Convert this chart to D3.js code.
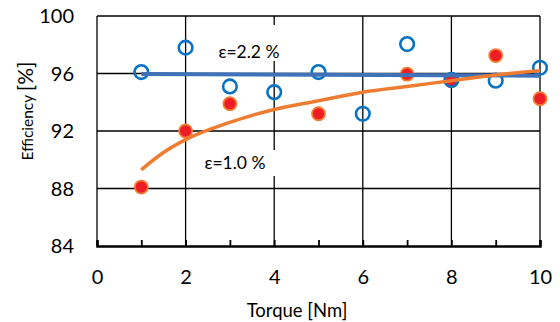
<!DOCTYPE html>
<html>
<head>
<meta charset="utf-8">
<script src="https://cdn.jsdelivr.net/npm/d3@7"></script>
<style>
  body { margin: 0; background: #fff; }
  svg { display: block; font-family: Lato, 'Open Sans', sans-serif; }
</style>
</head>
<body>
<svg id="chart" width="560" height="322"></svg>
<script>
// torque [Nm] and measured efficiency [%]
const torqueBlue = [1, 2, 3, 4, 5, 6, 7, 8, 9, 10]
const effBlue = [96.1, 97.8, 95.1, 94.7, 96.1, 93.2, 98.05, 95.55, 95.5, 96.4]
const torqueRed = [1, 2, 3, 5, 7, 8, 9, 10]
const effRed = [88.1, 92.0, 93.9, 93.2, 95.95, 95.5, 97.25, 94.25]
// trend lines
const trendBlueX = [1, 10]
const trendBlueY = [95.97, 95.85]
const trendRedX = [1, 1.5, 2, 3, 4, 5, 6, 7, 8, 9, 10]
const trendRedY = [89.3, 90.5, 91.4, 92.6, 93.5, 94.1, 94.7, 95.1, 95.5, 95.9, 96.2]
const xTicks = [0, 2, 4, 6, 8, 10]
const yTicks = [84, 88, 92, 96, 100]
const labelBlue = 'ε=2.2 %'
const labelRed = 'ε=1.0 %'

const plotLeft = 97
const plotTop = 16
const plotRight = 540
const plotBottom = 246

const svg = d3.select('#chart')
const x = d3.scaleLinear().domain([0, 10]).range([plotLeft, plotRight])
const y = d3.scaleLinear().domain([84, 100]).range([plotBottom, plotTop])

// grid
svg.append('g')
   .selectAll('line')
   .data(xTicks.filter(d => d > 0))
   .join('line')
   .attr('x1', d => x(d)).attr('x2', d => x(d))
   .attr('y1', plotTop).attr('y2', plotBottom)
   .attr('stroke', '#000').attr('stroke-width', 1.3)
svg.append('g')
   .selectAll('line')
   .data(yTicks.filter(d => d > 84))
   .join('line')
   .attr('x1', plotLeft).attr('x2', plotRight)
   .attr('y1', d => y(d)).attr('y2', d => y(d))
   .attr('stroke', '#000').attr('stroke-width', 1.3)
svg.append('line')
   .attr('x1', plotLeft).attr('x2', plotLeft)
   .attr('y1', plotTop).attr('y2', plotBottom)
   .attr('stroke', '#000').attr('stroke-width', 1.3)

// bottom axis with minor ticks pointing up
const xAxis = d3.axisBottom(x)
                .tickValues(d3.range(0, 11, 1))
                .tickSize(-6)
                .tickFormat(d => xTicks.includes(d) ? d : '')
const gx = svg.append('g')
              .attr('transform', `translate(0,${plotBottom})`)
              .call(xAxis)
gx.select('.domain').attr('stroke', '#000').attr('stroke-width', 2.5)
gx.selectAll('.tick line').attr('stroke', '#000').attr('stroke-width', 1.8)
gx.selectAll('.tick text')
  .attr('y', 24)
  .attr('font-size', 20)
  .attr('font-family', 'Lato, sans-serif')
  .attr('fill', '#000')

// left tick labels
svg.append('g')
   .selectAll('text')
   .data(yTicks)
   .join('text')
   .attr('x', 74)
   .attr('y', d => y(d))
   .attr('dy', '0.35em')
   .attr('text-anchor', 'end')
   .attr('font-size', 20)
   .text(d => d)

// axis titles
svg.append('text')
   .attr('x', 297).attr('y', 317)
   .attr('text-anchor', 'middle')
   .attr('font-size', 18.5)
   .text('Torque [Nm]')
const yt = svg.append('text')
              .attr('transform', 'translate(33,111) rotate(-90)')
              .attr('text-anchor', 'middle')
yt.append('tspan').attr('font-size', 15.5).text('Efficiency ')
yt.append('tspan').attr('font-size', 21).text('[%]')

// annotation boxes
const notes = [
  { text: labelBlue, cx: 249, cy: 43, ty: 52, w: 80, h: 36 },
  { text: labelRed, cx: 235, cy: 163, ty: 163, w: 80, h: 26 }
]
svg.append('g')
   .selectAll('rect')
   .data(notes)
   .join('rect')
   .attr('x', d => d.cx - d.w / 2).attr('y', d => d.cy - d.h / 2)
   .attr('width', d => d.w).attr('height', d => d.h)
   .attr('fill', '#fff')
svg.append('g')
   .selectAll('text')
   .data(notes)
   .join('text')
   .attr('x', d => d.cx).attr('y', d => d.ty)
   .attr('dy', '0.35em')
   .attr('text-anchor', 'middle')
   .attr('font-size', 17.5)
   .text(d => d.text)

// markers
svg.append('g')
   .selectAll('circle')
   .data(torqueRed.map((t, i) => [t, effRed[i]]))
   .join('circle')
   .attr('cx', d => x(d[0])).attr('cy', d => y(d[1]))
   .attr('r', 6.5)
   .attr('fill', '#ee1c24')
   .attr('stroke', '#f07b32').attr('stroke-width', 1.8)
svg.append('g')
   .selectAll('circle')
   .data(torqueBlue.map((t, i) => [t, effBlue[i]]))
   .join('circle')
   .attr('cx', d => x(d[0])).attr('cy', d => y(d[1]))
   .attr('r', 6.8)
   .attr('fill', 'none')
   .attr('stroke', '#0a72c2').attr('stroke-width', 2.6)

// trend lines
const line = d3.line()
               .x(d => x(d[0]))
               .y(d => y(d[1]))
               .curve(d3.curveMonotoneX)
svg.append('path')
   .attr('d', line(trendBlueX.map((t, i) => [t, trendBlueY[i]])))
   .attr('fill', 'none')
   .attr('stroke', '#3f72b8').attr('stroke-width', 4)
svg.append('path')
   .attr('d', line(trendRedX.map((t, i) => [t, trendRedY[i]])))
   .attr('fill', 'none')
   .attr('stroke', '#ef7d31').attr('stroke-width', 3.5)
</script>
</body>
</html>
